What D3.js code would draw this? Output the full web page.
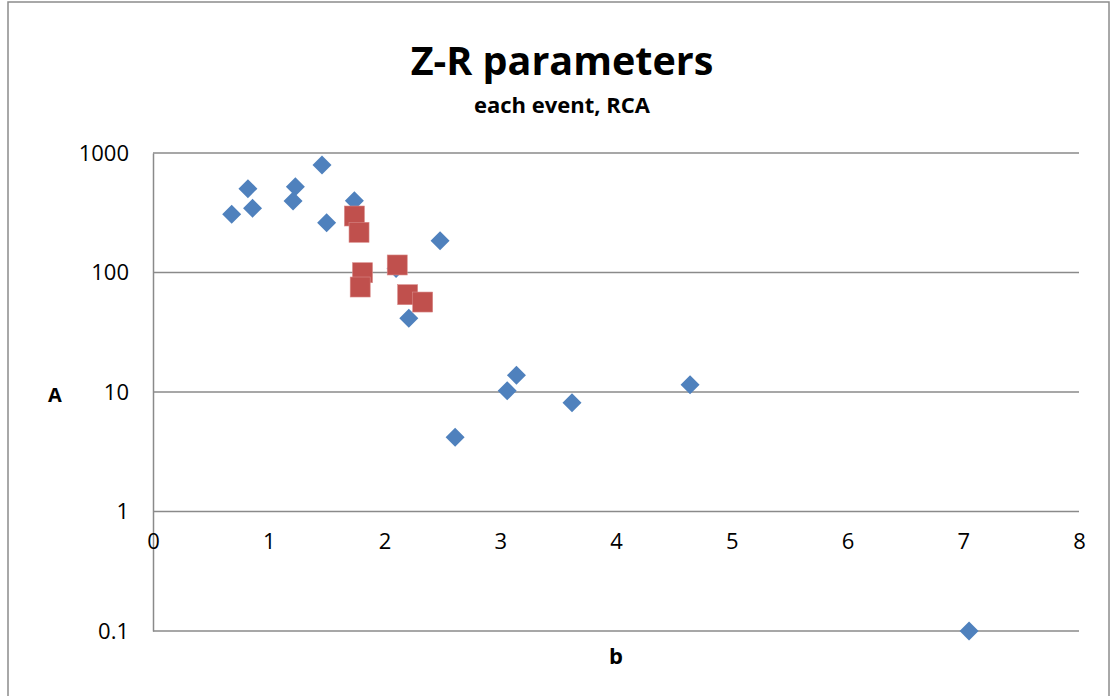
<!DOCTYPE html>
<html>
<head>
<meta charset="utf-8">
<script src="https://cdn.jsdelivr.net/npm/d3@7"></script>
<style>
  body { margin: 0; background: #fff; }
  svg text { font-family: "Open Sans", "Liberation Sans", sans-serif; }
</style>
</head>
<body>
<svg id="chart" width="1113" height="696"></svg>
<script>
// series 1 (blue diamonds): b and A
const eventB = [0.68, 0.82, 0.86, 1.23, 1.21, 1.46, 1.50, 1.74, 2.48, 2.21, 2.10, 2.61, 3.06, 3.14, 3.62, 4.64, 7.05];
const eventA = [307, 503, 345, 522, 397, 794, 261, 399, 184, 41.4, 108, 4.18, 10.25, 13.8, 8.14, 11.5, 0.1];
// series 2 (red squares)
const rcaB = [1.74, 1.78, 1.81, 1.79, 2.11, 2.20, 2.33];
const rcaA = [297, 217, 99.6, 75.6, 115.6, 65.2, 56.6];

const xTicks = [0, 1, 2, 3, 4, 5, 6, 7, 8];
const yTicks = [0.1, 1, 10, 100, 1000];

const svg = d3.select("#chart");
const margin = { left: 153, right: 1079, top: 153, bottom: 631 };

const x = d3.scaleLinear().domain([0, 8]).range([margin.left, margin.right]);
const y = d3.scaleLog().domain([0.1, 1000]).range([margin.bottom, margin.top]);

// outer chart border
svg.append("rect")
    .attr("x", 8).attr("y", 2)
    .attr("width", 1101).attr("height", 720)
    .attr("fill", "none")
    .attr("stroke", "#8c8c8c")
    .attr("stroke-width", 1.5);

// horizontal gridlines
svg.append("g")
    .selectAll("line")
    .data(yTicks)
    .enter()
    .append("line")
    .attr("x1", margin.left)
    .attr("x2", margin.right)
    .attr("y1", (d) => y(d))
    .attr("y2", (d) => y(d))
    .attr("stroke", "#8a8a8a")
    .attr("stroke-width", 1.5);

// y axis
const yAxis = svg.append("g")
    .attr("transform", `translate(${margin.left},0)`)
    .call(d3.axisLeft(y).tickValues(yTicks).tickFormat(d3.format("~g")).tickSize(0).tickPadding(24));
yAxis.select(".domain").attr("stroke", "#8a8a8a").attr("stroke-width", 1.5);
yAxis.selectAll("text")
    .style("font-family", "'Open Sans', sans-serif")
    .style("font-size", "22px").attr("fill", "#000");

// x axis crossing at A = 1
const xAxis = svg.append("g")
    .attr("transform", `translate(0,${y(1)})`)
    .call(d3.axisBottom(x).tickValues(xTicks).tickSize(0).tickPadding(22));
xAxis.select(".domain").remove();
xAxis.selectAll("text")
    .style("font-family", "'Open Sans', sans-serif")
    .style("font-size", "22px").attr("fill", "#000");

// markers
const diamond = d3.symbol().type(d3.symbolDiamond2).size(230);
svg.append("g")
    .selectAll("path")
    .data(eventB.map((b, i) => [b, eventA[i]]))
    .enter()
    .append("path")
    .attr("d", diamond)
    .attr("transform", (d) => `translate(${x(d[0])},${y(d[1])})`)
    .attr("fill", "#4f81bd");

svg.append("g")
    .selectAll("rect")
    .data(rcaB.map((b, i) => [b, rcaA[i]]))
    .enter()
    .append("rect")
    .attr("x", (d) => x(d[0]) - 10)
    .attr("y", (d) => y(d[1]) - 10)
    .attr("width", 20)
    .attr("height", 20)
    .attr("fill", "#c0504d")
    .attr("stroke", "#d88a88")
    .attr("stroke-width", 0.6);

// titles
svg.append("text")
    .attr("x", 562).attr("y", 75)
    .attr("text-anchor", "middle")
    .style("font-size", "39.5px").style("font-weight", "bold")
    .text("Z-R parameters");

svg.append("text")
    .attr("x", 562).attr("y", 113)
    .attr("text-anchor", "middle")
    .style("font-size", "22px").style("font-weight", "bold")
    .text("each event, RCA");

svg.append("text")
    .attr("x", 616).attr("y", 664)
    .attr("text-anchor", "middle")
    .style("font-size", "22px").style("font-weight", "bold")
    .text("b");

svg.append("text")
    .attr("x", 55).attr("y", 402)
    .attr("text-anchor", "middle")
    .style("font-size", "20px").style("font-weight", "bold")
    .text("A");
</script>
</body>
</html>
